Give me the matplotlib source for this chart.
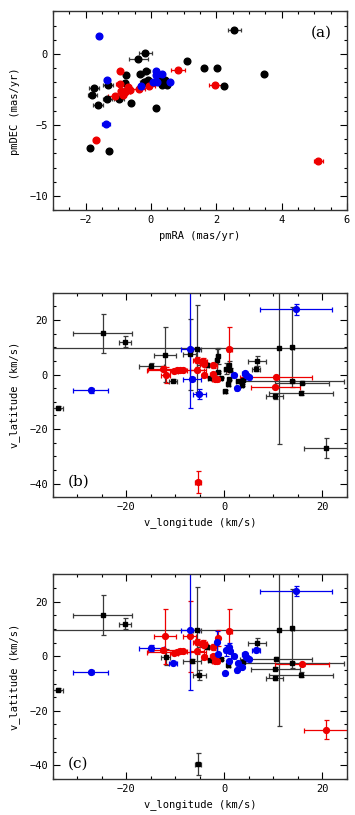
import numpy as np
import matplotlib
matplotlib.use('Agg')
import matplotlib.pyplot as plt
from matplotlib.ticker import MultipleLocator

# === panel (a): proper motions ===
pm_ra = [2.55, -0.17, -0.38, 1.11, 1.63, 2.02, 3.47, 2.23, -1.32, -1.75, -1.79, -1.61,
         -1.33, -0.98, -0.62, 0.15, -1.86, -1.29, -0.77, -0.32, -0.14, -0.80, 0.27, 0.43,
         0.34, 0.50, -0.10, -0.22,
         0.83, 1.97, -0.96, -1.68, 5.13, -0.96, -1.11, -0.80, -0.72, -0.70, -0.85, -0.37,
         -0.06, -0.90, -0.65,
         -1.59, -1.35, -1.37, 0.15, 0.34, 0.17, 0.06, 0.58, -0.29, 0.20]
pm_dec = [1.66, 0.09, -0.38, -0.47, -1.01, -1.01, -1.41, -2.23, -2.16, -2.40, -2.91, -3.62,
          -3.15, -3.15, -3.45, -3.83, -6.62, -6.86, -1.48, -1.41, -1.22, -2.07, -1.74, -1.85,
          -2.20, -2.20, -1.80, -2.00,
          -1.11, -2.16, -1.22, -6.04, -7.51, -2.11, -2.94, -2.70, -2.50, -2.30, -2.85, -2.47,
          -2.25, -2.60, -2.55,
          1.24, -1.81, -4.93, -1.18, -1.40, -1.50, -1.95, -1.95, -2.28, -1.95]
pm_ra_err = [0.20, 0.20, 0.30, 0, 0, 0, 0.08, 0, 0.15, 0.15, 0.15, 0.15,
             0.15, 0.15, 0, 0, 0, 0, 0, 0.10, 0.10, 0.10, 0, 0,
             0, 0, 0.10, 0.10,
             0.20, 0.20, 0, 0.10, 0.15, 0.10, 0.20, 0.15, 0.15, 0.10, 0.10, 0.20,
             0.20, 0.10, 0.10,
             0, 0.10, 0.12, 0, 0.05, 0, 0, 0, 0, 0]
pm_group = ['k'] * 28 + ['r'] * 15 + ['b'] * 10

# === panels (b), (c): tangential velocities ===
v_lon = [-24.8, -20.3, -34.0, -27.3, -12.1, -14.9, -12.5, -12.0, -10.4, -9.7, -9.0, -8.4,
         -10.2, -7.0, -7.1, -6.6, -5.1, -5.6, -5.6, -4.4, -4.2, -5.6, -4.1, -2.4,
         -2.4, -2.0, -1.6, 1.0, 10.5, 10.4, 14.6, 11.2, 13.9, 13.9, 15.8, 20.8,
         6.7, 6.4, 10.3, 15.6, -5.4, -1.6, -1.4, -3.6, -1.2, 0.3, 1.2, -0.7,
         0.9, 1.0, 0.8, 0.1, 3.8, 3.6, 1.9, 4.2, 4.5, 5.0, 2.5, 2.7, -3.0]
v_lat = [15.1, 12.0, -12.2, -5.8, 7.3, 3.1, 2.2, -0.2, -2.3, 1.6, 1.8, 1.8,
         1.3, 9.5, 7.4, -1.7, -7.0, 9.5, 5.3, 5.0, 4.0, 1.8, -0.2, 3.4,
         0.1, -1.7, -1.8, 9.3, -0.9, -4.5, 23.9, 9.6, 10.2, -2.4, -3.0, -26.9,
         4.9, 2.2, -8.0, -6.7, -39.5, 5.3, 6.7, 3.4, 1.0, 2.2, 1.8, -1.1,
         3.4, -1.7, -3.3, -6.1, -2.1, -3.9, 0.0, 0.7, -0.2, -0.9, -5.1, -2.5, -1.3]
v_lon_err = [6.0, 1.3, 1.1, 3.6, 2.2, 2.5, 3.0, 1.0, 0.8, 6.0, 0.8, 0.8,
             0.8, 1.8, 1.3, 1.8, 1.3, 0.8, 0.8, 0.8, 0.8, 1.5, 0.5, 0.8,
             0.5, 0.5, 0.5, 0.5, 7.3, 5.0, 7.4, 60.0, 0.3, 10.6, 5.5, 4.6,
             1.8, 0.8, 1.7, 6.5, 0.6, 0.4, 0.4, 2.0, 0.3, 0.3, 0.3, 0.3,
             0.3, 0.3, 0.3, 0.3, 0.3, 0.3, 0.5, 0.5, 0.5, 0.5, 0.3, 0.3, 0.3]
v_lat_err = [7.3, 2.0, 0.6, 0.8, 10.0, 1.2, 0.8, 3.0, 0.5, 0.6, 0.6, 0.6,
             0.6, 21.7, 13.0, 0.8, 1.8, 16.0, 1.0, 1.0, 1.0, 1.0, 0.5, 1.0,
             0.5, 0.5, 0.5, 8.2, 0.6, 0.6, 1.9, 35.0, 14.6, 0.3, 0.5, 3.6,
             1.8, 0.8, 0.8, 0.8, 4.0, 4.0, 3.0, 0.8, 0.3, 2.0, 0.5, 0.3,
             1.5, 0.3, 0.8, 0.5, 0.3, 0.3, 0.3, 0.3, 0.3, 0.3, 0.3, 0.3, 0.3]
group_b = ['k', 'k', 'k', 'b', 'k', 'k', 'r', 'r', 'k', 'r', 'r', 'r',
           'r', 'b', 'k', 'b', 'b', 'k', 'r', 'r', 'r', 'r', 'r', 'r',
           'r', 'r', 'r', 'r', 'r', 'r', 'b', 'k', 'k', 'k', 'k', 'k',
           'k', 'k', 'k', 'k', 'r', 'k', 'k', 'k', 'k', 'k', 'k', 'k',
           'k', 'k', 'k', 'k', 'k', 'k', 'b', 'b', 'b', 'b', 'b', 'k', 'k']
group_c = ['k', 'k', 'k', 'b', 'r', 'b', 'r', 'k', 'b', 'r', 'r', 'r',
           'r', 'b', 'r', 'k', 'k', 'k', 'r', 'r', 'r', 'r', 'r', 'r',
           'r', 'r', 'r', 'r', 'k', 'k', 'b', 'k', 'k', 'k', 'r', 'r',
           'k', 'b', 'k', 'k', 'k', 'b', 'r', 'k', 'b', 'b', 'b', 'k',
           'b', 'b', 'k', 'b', 'k', 'b', 'b', 'b', 'b', 'b', 'b', 'b', 'k']

colors = {'k': 'black', 'r': '#ee0000', 'b': '#0000ee'}
bar_colors = {'k': '#3a3a3a', 'r': '#ee0000', 'b': '#0000ee'}

plt.rcParams['font.family'] = ['DejaVu Sans Mono']
plt.rcParams['font.size'] = 7.5


def style_axes(ax, xmaj, xmin, ymaj, ymin):
    ax.xaxis.set_major_locator(MultipleLocator(xmaj))
    ax.xaxis.set_minor_locator(MultipleLocator(xmin))
    ax.yaxis.set_major_locator(MultipleLocator(ymaj))
    ax.yaxis.set_minor_locator(MultipleLocator(ymin))
    ax.tick_params(which='both', direction='in', top=True, right=True, labelsize=7.5)
    ax.tick_params(which='major', length=5, width=0.8)
    ax.tick_params(which='minor', length=2.5, width=0.8)
    for s in ax.spines.values():
        s.set_linewidth(1.0)
        s.set_color('#333333')


fig = plt.figure(figsize=(3.55, 8.15), dpi=100)

# --- (a) ---
ax = fig.add_axes([0.149, 0.742, 0.828, 0.244])
pm_ra_a = np.array(pm_ra)
pm_dec_a = np.array(pm_dec)
pm_err_a = np.array(pm_ra_err)
grp_a = np.array(pm_group)
for g in ['k', 'r', 'b']:
    m = grp_a == g
    ax.errorbar(pm_ra_a[m], pm_dec_a[m], xerr=pm_err_a[m], fmt='o', color=colors[g],
                ecolor=bar_colors[g], ms=4.8, elinewidth=0.9, capsize=1.5, capthick=0.9)
ax.set_xlim(-3, 6)
ax.set_ylim(-11, 3)
style_axes(ax, 2, 0.5, 5, 1)
ax.set_xlabel('pmRA (mas/yr)', labelpad=4)
ax.set_ylabel('pmDEC (mas/yr)', labelpad=7)
ax.text(0.95, 0.93, '(a)', transform=ax.transAxes, ha='right', va='top', fontsize=11,
        family='DejaVu Serif')


def draw_vel(ax, groups, label):
    x = np.array(v_lon)
    y = np.array(v_lat)
    xe = np.array(v_lon_err)
    ye = np.array(v_lat_err)
    grp = np.array(groups)
    for g in ['k', 'r', 'b']:
        m = grp == g
        if g == 'k':
            ax.errorbar(x[m], y[m], xerr=xe[m], yerr=ye[m], fmt='s', color='black',
                        ecolor=bar_colors[g], ms=2.2, elinewidth=0.9, capsize=1.8,
                        capthick=0.9)
        else:
            ax.errorbar(x[m], y[m], xerr=xe[m], yerr=ye[m], fmt='o', color=colors[g],
                        ecolor=bar_colors[g], ms=4.2, elinewidth=0.9, capsize=1.8,
                        capthick=0.9)
    ax.set_xlim(-35, 25)
    ax.set_ylim(-45, 30)
    style_axes(ax, 20, 5, 20, 5)
    ax.set_xlabel('v_longitude (km/s)', labelpad=4)
    ax.set_ylabel('v_latitude (km/s)', labelpad=7)
    ax.text(0.05, 0.04, label, transform=ax.transAxes, ha='left', va='bottom', fontsize=11,
            family='DejaVu Serif')


ax_b = fig.add_axes([0.149, 0.390, 0.828, 0.2507])
draw_vel(ax_b, group_b, '(b)')
ax_c = fig.add_axes([0.149, 0.0442, 0.828, 0.251])
draw_vel(ax_c, group_c, '(c)')

fig.savefig('out.png', dpi=100, facecolor='white')
